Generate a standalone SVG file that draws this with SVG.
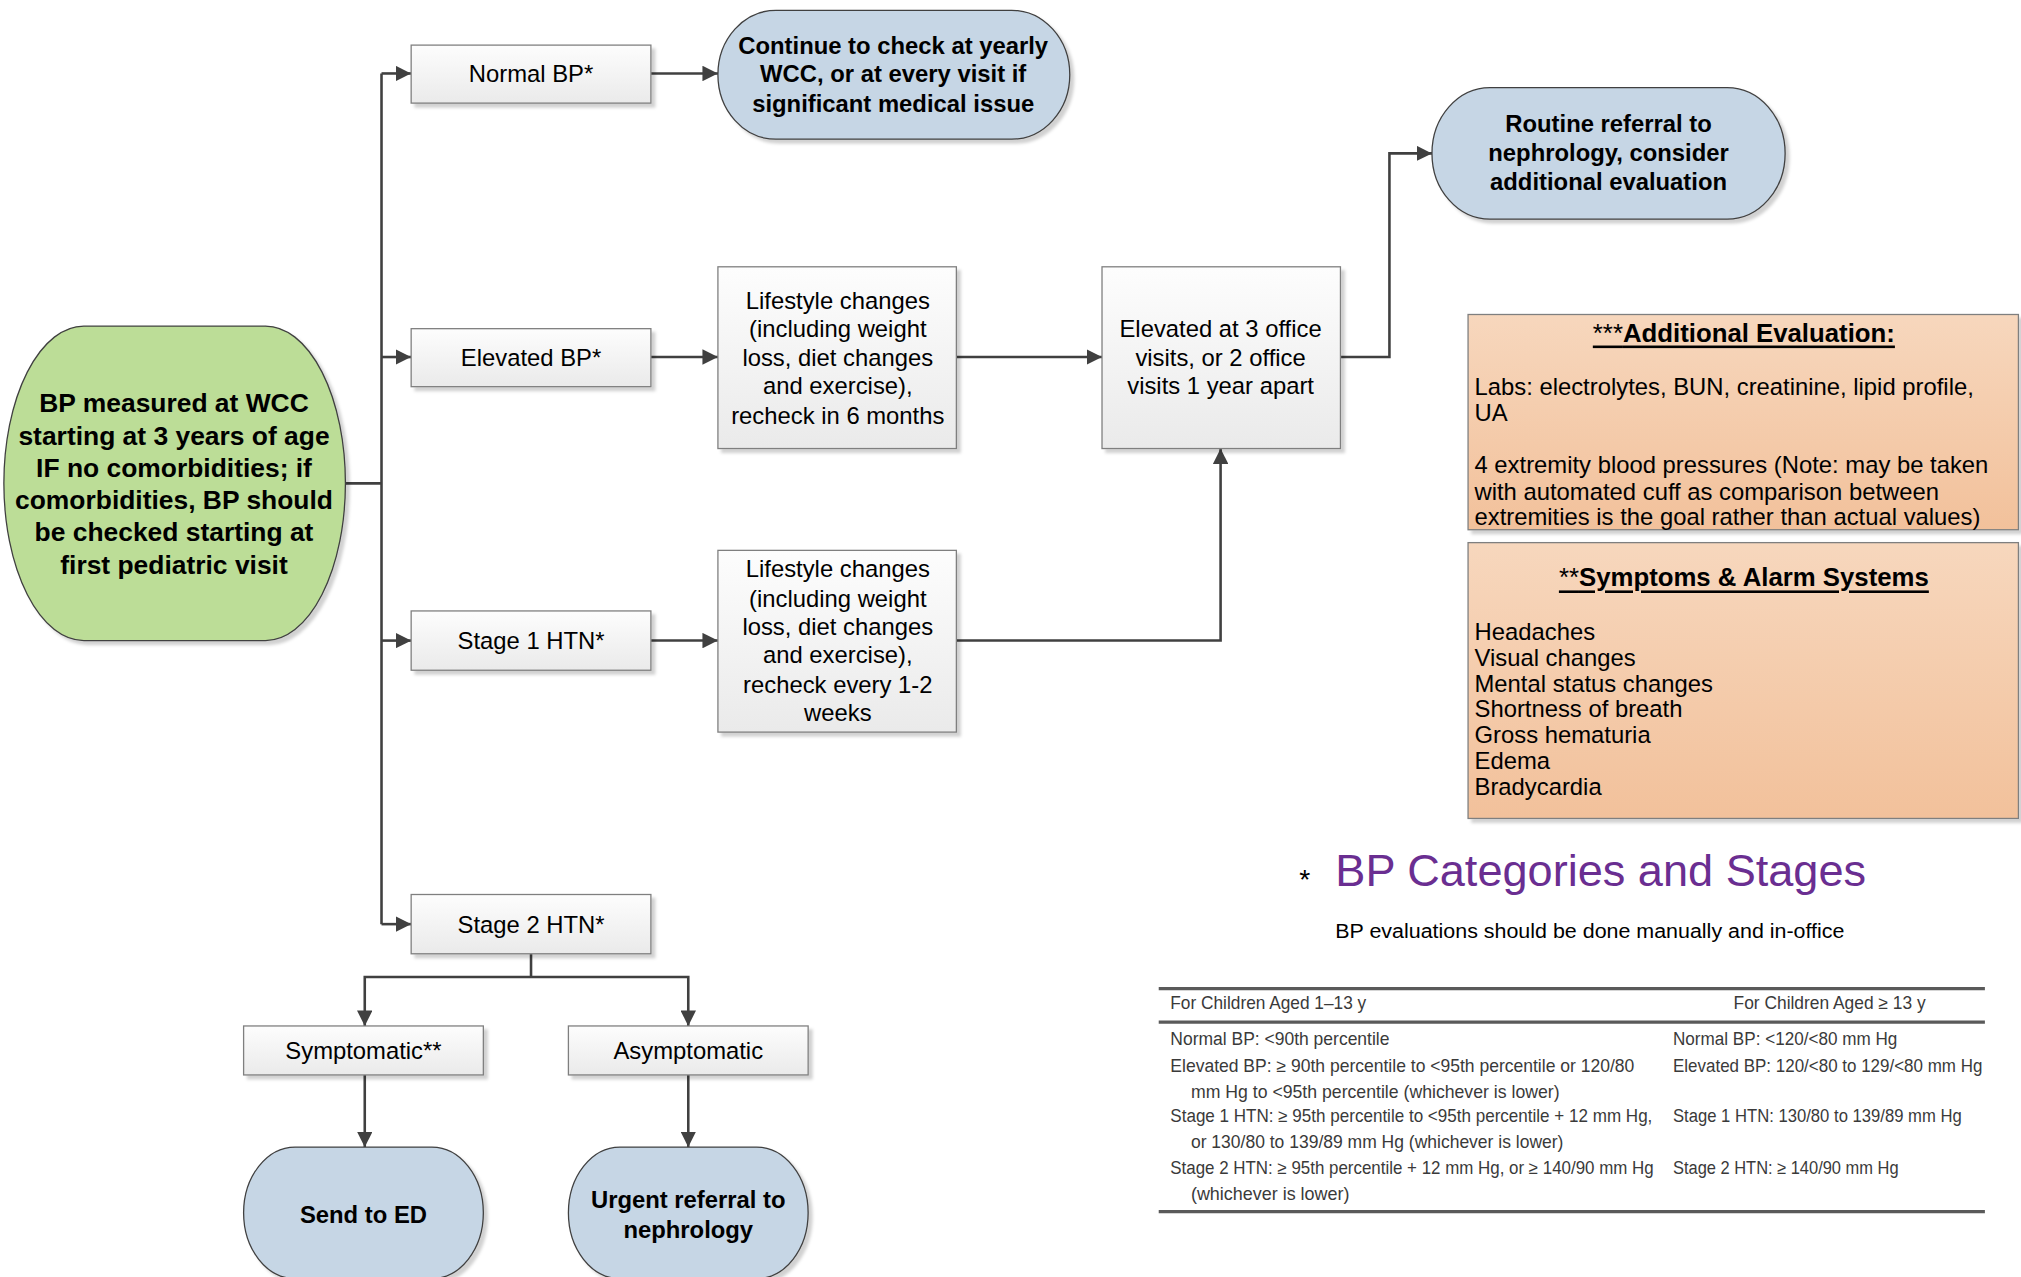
<svg xmlns="http://www.w3.org/2000/svg" width="2021" height="1277" viewBox="0 0 2021 1277">
<style>
  text { font-family: "Liberation Sans", Arial, sans-serif; fill: #000; dominant-baseline: central; }
  .t { font-size: 18.5px; text-anchor: middle; }
  .tb { font-size: 18.5px; text-anchor: middle; font-weight: bold; }
  .tg { font-size: 20.5px; text-anchor: middle; font-weight: bold; }
  .tl { font-size: 18.5px; text-anchor: start; }
  .th { font-size: 20px; text-anchor: middle; font-weight: bold; text-decoration: underline; }
  .box { fill: url(#boxGrad); stroke: #7f7f7f; stroke-width: 1; filter: url(#sh); }
  .term { fill: #c6d6e5; stroke: #404040; stroke-width: 1; filter: url(#sh); }
  .start { fill: #bcdd97; stroke: #404040; stroke-width: 1; filter: url(#sh); }
  .note { fill: url(#orGrad); stroke: #7f7f7f; stroke-width: 1; filter: url(#sh); }
  .conn { fill: none; stroke: #404040; stroke-width: 2; }
  .arr { marker-end: url(#ah); }
  .tab { font-size: 14px; fill: #3a3a3a; }
  .rule { stroke: #5a5a5a; stroke-width: 2.5; }
</style>
<defs>
  <linearGradient id="boxGrad" x1="0" y1="0" x2="0" y2="1">
    <stop offset="0" stop-color="#fdfdfd"/>
    <stop offset="1" stop-color="#eaeaea"/>
  </linearGradient>
  <linearGradient id="orGrad" x1="0" y1="0" x2="0" y2="1">
    <stop offset="0" stop-color="#f7d7bd"/>
    <stop offset="1" stop-color="#f2c19b"/>
  </linearGradient>
  <filter id="sh" x="-5%" y="-5%" width="115%" height="120%">
    <feDropShadow dx="3" dy="3" stdDeviation="1.2" flood-color="#000" flood-opacity="0.18"/>
  </filter>
  <marker id="ah" markerUnits="userSpaceOnUse" markerWidth="12" markerHeight="12" refX="12" refY="6" orient="auto">
    <path d="M0,0 L12,6 L0,12 Z" fill="#404040"/>
  </marker>
</defs>
<rect x="0" y="0" width="2021" height="1277" fill="#fff"/>
<g transform="scale(1.2889)">
  <g id="connectors">
    <path class="conn" d="M268,375 H296"/>
    <path class="conn" d="M296,57 V717"/>
    <path class="conn arr" d="M296,57 H319"/>
    <path class="conn arr" d="M296,277 H319"/>
    <path class="conn arr" d="M296,497 H319"/>
    <path class="conn arr" d="M296,717 H319"/>
    <path class="conn arr" d="M505,57 H557"/>
    <path class="conn arr" d="M505,277 H557"/>
    <path class="conn arr" d="M505,497 H557"/>
    <path class="conn arr" d="M742,277 H855"/>
    <path class="conn arr" d="M742,497 H947 V348"/>
    <path class="conn arr" d="M1040,277 H1078 V119 H1111"/>
    <path class="conn" d="M412,740 V758"/>
    <path class="conn arr" d="M412,758 H283 V796"/>
    <path class="conn arr" d="M412,758 H534 V796"/>
    <path class="conn arr" d="M283,834 V890"/>
    <path class="conn arr" d="M534,834 V890"/>
  </g>

  <g id="start">
    <rect class="start" x="3" y="253" width="265" height="244" rx="62" ry="122"/>
    <text class="tg" x="135" y="313">BP measured at WCC</text>
    <text class="tg" x="135" y="338">starting at 3 years of age</text>
    <text class="tg" x="135" y="363">IF no comorbidities; if</text>
    <text class="tg" x="135" y="388">comorbidities, BP should</text>
    <text class="tg" x="135" y="413">be checked starting at</text>
    <text class="tg" x="135" y="438">first pediatric visit</text>
  </g>

  <g id="normal-bp">
    <rect class="box" x="319" y="35" width="186" height="45"/>
    <text class="t" x="412" y="57">Normal BP*</text>
  </g>
  <g id="elevated-bp">
    <rect class="box" x="319" y="255" width="186" height="45"/>
    <text class="t" x="412" y="277">Elevated BP*</text>
  </g>
  <g id="stage1">
    <rect class="box" x="319" y="474" width="186" height="46"/>
    <text class="t" x="412" y="497">Stage 1 HTN*</text>
  </g>
  <g id="stage2">
    <rect class="box" x="319" y="694" width="186" height="46"/>
    <text class="t" x="412" y="717">Stage 2 HTN*</text>
  </g>

  <g id="continue">
    <rect class="term" x="557" y="8" width="273" height="100" rx="45" ry="50"/>
    <text class="tb" x="693" y="35">Continue to check at yearly</text>
    <text class="tb" x="693" y="57">WCC, or at every visit if</text>
    <text class="tb" x="693" y="80">significant medical issue</text>
  </g>

  <g id="lifestyle-6mo">
    <rect class="box" x="557" y="207" width="185" height="141"/>
    <text class="t" x="650" y="233">Lifestyle changes</text>
    <text class="t" x="650" y="255">(including weight</text>
    <text class="t" x="650" y="277">loss, diet changes</text>
    <text class="t" x="650" y="299">and exercise),</text>
    <text class="t" x="650" y="322">recheck in 6 months</text>
  </g>

  <g id="lifestyle-1-2wk">
    <rect class="box" x="557" y="427" width="185" height="141"/>
    <text class="t" x="650" y="441">Lifestyle changes</text>
    <text class="t" x="650" y="464">(including weight</text>
    <text class="t" x="650" y="486">loss, diet changes</text>
    <text class="t" x="650" y="508">and exercise),</text>
    <text class="t" x="650" y="531">recheck every 1-2</text>
    <text class="t" x="650" y="553">weeks</text>
  </g>

  <g id="elevated-3">
    <rect class="box" x="855" y="207" width="185" height="141"/>
    <text class="t" x="947" y="255">Elevated at 3 office</text>
    <text class="t" x="947" y="277">visits, or 2 office</text>
    <text class="t" x="947" y="299">visits 1 year apart</text>
  </g>

  <g id="routine">
    <rect class="term" x="1111" y="68" width="274" height="102" rx="45" ry="51"/>
    <text class="tb" x="1248" y="96">Routine referral to</text>
    <text class="tb" x="1248" y="118">nephrology, consider</text>
    <text class="tb" x="1248" y="141">additional evaluation</text>
  </g>

  <g id="symptomatic">
    <rect class="box" x="189" y="796" width="186" height="38"/>
    <text class="t" x="282" y="815">Symptomatic**</text>
  </g>
  <g id="asymptomatic">
    <rect class="box" x="441" y="796" width="186" height="38"/>
    <text class="t" x="534" y="815">Asymptomatic</text>
  </g>

  <g id="send-ed">
    <rect class="term" x="189" y="890" width="186" height="102" rx="40" ry="51"/>
    <text class="tb" x="282" y="942">Send to ED</text>
  </g>
  <g id="urgent">
    <rect class="term" x="441" y="890" width="186" height="102" rx="40" ry="51"/>
    <text class="tb" x="534" y="931">Urgent referral to</text>
    <text class="tb" x="534" y="954">nephrology</text>
  </g>

  <g id="additional-evaluation">
    <rect class="note" x="1139" y="244" width="427" height="167"/>
    <text class="th" x="1353" y="258"><tspan font-weight="normal">***</tspan>Additional Evaluation:</text>
    <text class="tl" x="1144" y="300">Labs: electrolytes, BUN, creatinine, lipid profile,</text>
    <text class="tl" x="1144" y="320">UA</text>
    <text class="tl" x="1144" y="360">4 extremity blood pressures (Note: may be taken</text>
    <text class="tl" x="1144" y="381">with automated cuff as comparison between</text>
    <text class="tl" x="1144" y="401">extremities is the goal rather than actual values)</text>
  </g>

  <g id="symptoms">
    <rect class="note" x="1139" y="421" width="427" height="214"/>
    <text class="th" x="1353" y="448"><tspan font-weight="normal">**</tspan>Symptoms &amp; Alarm Systems</text>
    <text class="tl" x="1144" y="490">Headaches</text>
    <text class="tl" x="1144" y="510">Visual changes</text>
    <text class="tl" x="1144" y="530">Mental status changes</text>
    <text class="tl" x="1144" y="550">Shortness of breath</text>
    <text class="tl" x="1144" y="570">Gross hematuria</text>
    <text class="tl" x="1144" y="590">Edema</text>
    <text class="tl" x="1144" y="610">Bradycardia</text>
  </g>

  <g id="bp-table">
    <text x="1008" y="682" font-size="22">*</text>
    <text x="1036" y="675" font-size="35" fill="#6a2e91" style="fill:#6a2e91">BP Categories and Stages</text>
    <text x="1036" y="722" font-size="16" textLength="395" lengthAdjust="spacingAndGlyphs">BP evaluations should be done manually and in-office</text>
    <line class="rule" x1="899" y1="767" x2="1540" y2="767"/>
    <line class="rule" x1="899" y1="793" x2="1540" y2="793"/>
    <line class="rule" x1="899" y1="940" x2="1540" y2="940"/>
    <text class="tab" x="908" y="778" textLength="152" lengthAdjust="spacingAndGlyphs">For Children Aged 1–13 y</text>
    <text class="tab" x="1345" y="778" textLength="149" lengthAdjust="spacingAndGlyphs">For Children Aged ≥ 13 y</text>
    <text class="tab" x="908" y="806" textLength="170" lengthAdjust="spacingAndGlyphs">Normal BP: &lt;90th percentile</text>
    <text class="tab" x="1298" y="806" textLength="174" lengthAdjust="spacingAndGlyphs">Normal BP: &lt;120/&lt;80 mm Hg</text>
    <text class="tab" x="908" y="827" textLength="360" lengthAdjust="spacingAndGlyphs">Elevated BP: ≥ 90th percentile to &lt;95th percentile or 120/80</text>
    <text class="tab" x="1298" y="827" textLength="240" lengthAdjust="spacingAndGlyphs">Elevated BP: 120/&lt;80 to 129/&lt;80 mm Hg</text>
    <text class="tab" x="924" y="847" textLength="286" lengthAdjust="spacingAndGlyphs">mm Hg to &lt;95th percentile (whichever is lower)</text>
    <text class="tab" x="908" y="866" textLength="374" lengthAdjust="spacingAndGlyphs">Stage 1 HTN: ≥ 95th percentile to &lt;95th percentile + 12 mm Hg,</text>
    <text class="tab" x="1298" y="866" textLength="224" lengthAdjust="spacingAndGlyphs">Stage 1 HTN: 130/80 to 139/89 mm Hg</text>
    <text class="tab" x="924" y="886" textLength="289" lengthAdjust="spacingAndGlyphs">or 130/80 to 139/89 mm Hg (whichever is lower)</text>
    <text class="tab" x="908" y="906" textLength="375" lengthAdjust="spacingAndGlyphs">Stage 2 HTN: ≥ 95th percentile + 12 mm Hg, or ≥ 140/90 mm Hg</text>
    <text class="tab" x="1298" y="906" textLength="175" lengthAdjust="spacingAndGlyphs">Stage 2 HTN: ≥ 140/90 mm Hg</text>
    <text class="tab" x="924" y="926" textLength="123" lengthAdjust="spacingAndGlyphs">(whichever is lower)</text>
  </g>
</g>
</svg>
